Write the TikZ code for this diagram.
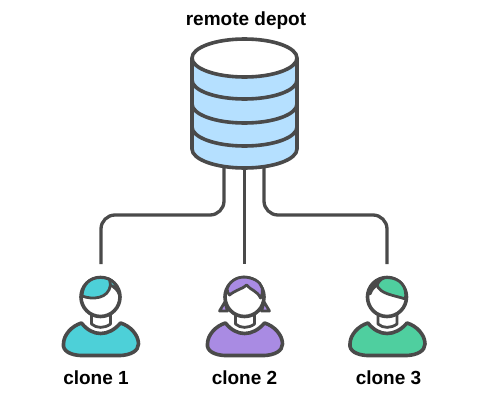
\documentclass[tikz,border=0pt]{standalone}
\usepackage{fontspec}
\setmainfont{Liberation Sans}
\definecolor{ink}{HTML}{4A4A4A}
\definecolor{teal1}{HTML}{4DD0D8}
\definecolor{purple1}{HTML}{A98BE3}
\definecolor{green1}{HTML}{4FCF9F}
\definecolor{blue1}{HTML}{B5E0FF}
\tikzset{
  outline/.style={draw=ink,line width=3.6pt,line join=round,line cap=round},
  wire/.style={draw=ink,line width=3.3pt,rounded corners=14pt},
  thinout/.style={draw=ink,line width=2.8pt,line join=round,line cap=round},
  caption/.style={font=\bfseries\fontsize{19}{22}\selectfont,text=black,inner sep=0pt,anchor=center}
}
% #1 head centre, #2 colour, #3 hair drawing
\newcommand{\personbase}[3]{%
  \begin{scope}[shift={(#1)}]
    \path[outline,fill=#2] (-19,26) .. controls (-8,40) and (8,40) .. (20,26)
      .. controls (30,29) and (38,38) .. (38,47)
      .. controls (38,54) and (30,58) .. (20,58.5)
      -- (-20,58.5) .. controls (-30,58) and (-38,54) .. (-37,47)
      .. controls (-37,38) and (-29,29) .. cycle;
    \path[thinout,fill=white] (-9,17) -- (-9,27) .. controls (-4,31.5) and (4,31.5) .. (10,27) -- (10,17);
    \path[outline,fill=white] (0,0) circle[radius=19.5];
    #3
  \end{scope}}
\begin{document}
\begin{tikzpicture}[x=1pt,y=-1pt]
\useasboundingbox (0,0) rectangle (504,410);
\fill[white] (0,0) rectangle (504,410);
% connectors
\coordinate (dbL) at (224,165);
\coordinate (dbM) at (244.5,165);
\coordinate (dbR) at (264,165);
\coordinate (c1) at (101,264);
\coordinate (c2) at (244.5,264);
\coordinate (c3) at (387,264);
\draw[wire] (dbL) -- (dbL |- 0,215) -- (c1 |- 0,215) -- (c1);
\draw[wire] (dbM) -- (c2);
\draw[wire] (dbR) -- (dbR |- 0,215) -- (c3 |- 0,215) -- (c3);
% cylinder
\path[outline,fill=blue1] (192,58) -- (192,149) arc[start angle=180,end angle=0,x radius=52.5,y radius=19] -- (297,58) -- cycle;
\draw[outline] (192,80) arc[start angle=180,end angle=0,x radius=52.5,y radius=19];
\draw[outline] (192,104) arc[start angle=180,end angle=0,x radius=52.5,y radius=19];
\draw[outline] (192,127) arc[start angle=180,end angle=0,x radius=52.5,y radius=19];
\path[outline,fill=white] (244.5,58) ellipse[x radius=52.5,y radius=19];
% persons
\personbase{100.5,297}{teal1}{%
  \path[thinout,fill=teal1] (-18.5,-1) .. controls (-8,3) and (8,2) .. (10,-12)
     .. controls (14,-10) and (18,-6) .. (19,-2)
     .. controls (18,-13) and (10,-19.5) .. (0,-19.5)
     .. controls (-10,-19.5) and (-18,-13) .. cycle;
  \draw[thinout] (10,-12) -- (9,-18);}
\personbase{244.5,297}{purple1}{%
  \path[thinout,fill=purple1] (-15,-2) .. controls (-9,-7) and (0,-9) .. (2,-12)
     .. controls (6,-7) and (13,-6) .. (16,1)
     .. controls (20,-6) and (18,-13) .. (11,-17)
     .. controls (3,-21) and (-6,-21) .. (-12,-16)
     .. controls (-18,-11) and (-19,-6) .. cycle;
  \path[thinout,fill=purple1] (-19,4) -- (-25,14) -- (-17,14) .. controls (-18,11) and (-19,8) .. cycle;
  \path[thinout,fill=purple1] (19,4) -- (25,14) -- (17,14) .. controls (18,11) and (19,8) .. cycle;}
\personbase{387,297}{green1}{%
  \path[thinout,fill=green1] (-10,-12) .. controls (-7,-3) and (6,-2) .. (18.5,2)
     .. controls (20,-10) and (14,-19) .. (0,-19.5)
     .. controls (-4,-19.5) and (-8,-17) .. cycle;
  \path[thinout,fill=green1] (-10,-12) .. controls (-13,-10) and (-15,-8) .. (-17,-3)
     .. controls (-18,-9) and (-13,-15) .. (-8,-17) -- cycle;}
% labels
\node[caption] (t0) at (246,21) {remote depot};
\node[caption] (t1) at (96,377.5) {clone 1};
\node[caption] (t2) at (244.5,377.5) {clone 2};
\node[caption] (t3) at (388.5,377.5) {clone 3};
\end{tikzpicture}
\end{document}
